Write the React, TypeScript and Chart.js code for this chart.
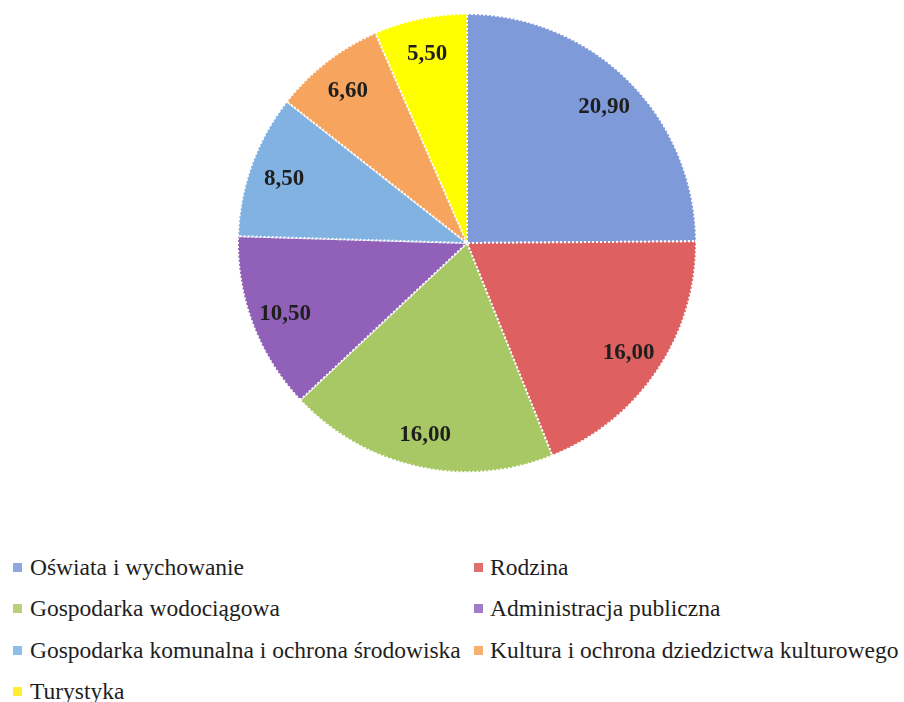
import React, { useEffect, useRef } from "react";
import { Chart, registerables } from "chart.js";

Chart.register(...registerables);

const categories = [
  "Oświata i wychowanie",
  "Rodzina",
  "Gospodarka wodociągowa",
  "Administracja publiczna",
  "Gospodarka komunalna i ochrona środowiska",
  "Kultura i ochrona dziedzictwa kulturowego",
  "Turystyka",
];
const values = [20.9, 16.0, 16.0, 10.5, 8.5, 6.6, 5.5];
const valueLabels = ["20,90", "16,00", "16,00", "10,50", "8,50", "6,60", "5,50"];
const colors = ["#7f9ad9", "#de6060", "#a8c865", "#9161b9", "#82b2e2", "#f6a45e", "#ffff00"];
const markerColors = ["#8fa6e0", "#e07070", "#b8d078", "#a07cc8", "#8ebde8", "#f8b070", "#ffef30"];

const labelPlugin = {
  id: "valueLabels",
  afterDatasetsDraw(chart: any) {
    const meta = chart.getDatasetMeta(0);
    const ctx = chart.ctx;
    ctx.save();
    ctx.font = "bold 23px 'Liberation Serif', 'Times New Roman', serif";
    ctx.fillStyle = "#1e1e1e";
    ctx.textAlign = "center";
    ctx.textBaseline = "middle";
    meta.data.forEach((arc: any, i: number) => {
      const p = arc.getProps(["x", "y", "startAngle", "endAngle", "outerRadius"], true);
      const mid = (p.startAngle + p.endAngle) / 2;
      const r = p.outerRadius * 0.85;
      ctx.fillText(valueLabels[i], p.x + Math.cos(mid) * r, p.y + Math.sin(mid) * r + 2);
    });
    ctx.restore();
  },
};

export default function App() {
  const ref = useRef<HTMLCanvasElement | null>(null);
  useEffect(() => {
    document.body.style.margin = "0";
    const chart = new Chart(ref.current as HTMLCanvasElement, {
      type: "pie",
      data: {
        labels: categories,
        datasets: [
          {
            data: values,
            backgroundColor: colors,
            borderColor: "#ffffff",
            borderWidth: 2,
            borderDash: [2, 2],
          } as any,
        ],
      },
      options: {
        animation: false,
        responsive: false,
        maintainAspectRatio: false,
        layout: { padding: { left: 30, right: 0, top: 13, bottom: 13 } },
        plugins: {
          legend: { display: false },
          tooltip: { enabled: false },
        },
      },
      plugins: [labelPlugin],
    });
    return () => chart.destroy();
  }, []);

  const rows = [
    [0, 1],
    [2, 3],
    [4, 5],
    [6],
  ];
  const rowY = [567, 608, 650, 691];

  return (
    <div style={{ position: "relative", width: 904, height: 702, background: "#fff", overflow: "hidden" }}>
      <canvas ref={ref} width={904} height={486} style={{ position: "absolute", left: 0, top: 0, width: 904, height: 486 }} />
      {rows.map((row, ri) =>
        row.map((idx, ci) => (
          <div
            key={idx}
            style={{
              position: "absolute",
              left: ci === 0 ? 13 : 474,
              top: rowY[ri] - 15,
              height: 30,
              display: "flex",
              alignItems: "center",
              fontFamily: "'Liberation Serif', 'Times New Roman', serif",
              fontSize: 23.5,
              color: "#1e1e1e",
              whiteSpace: "nowrap",
            }}
          >
            <span
              style={{
                display: "inline-block",
                width: 9,
                height: 9,
                background: markerColors[idx],
                marginRight: ci === 0 ? 8 : 7,
              }}
            />
            <span>{categories[idx]}</span>
          </div>
        ))
      )}
    </div>
  );
}
